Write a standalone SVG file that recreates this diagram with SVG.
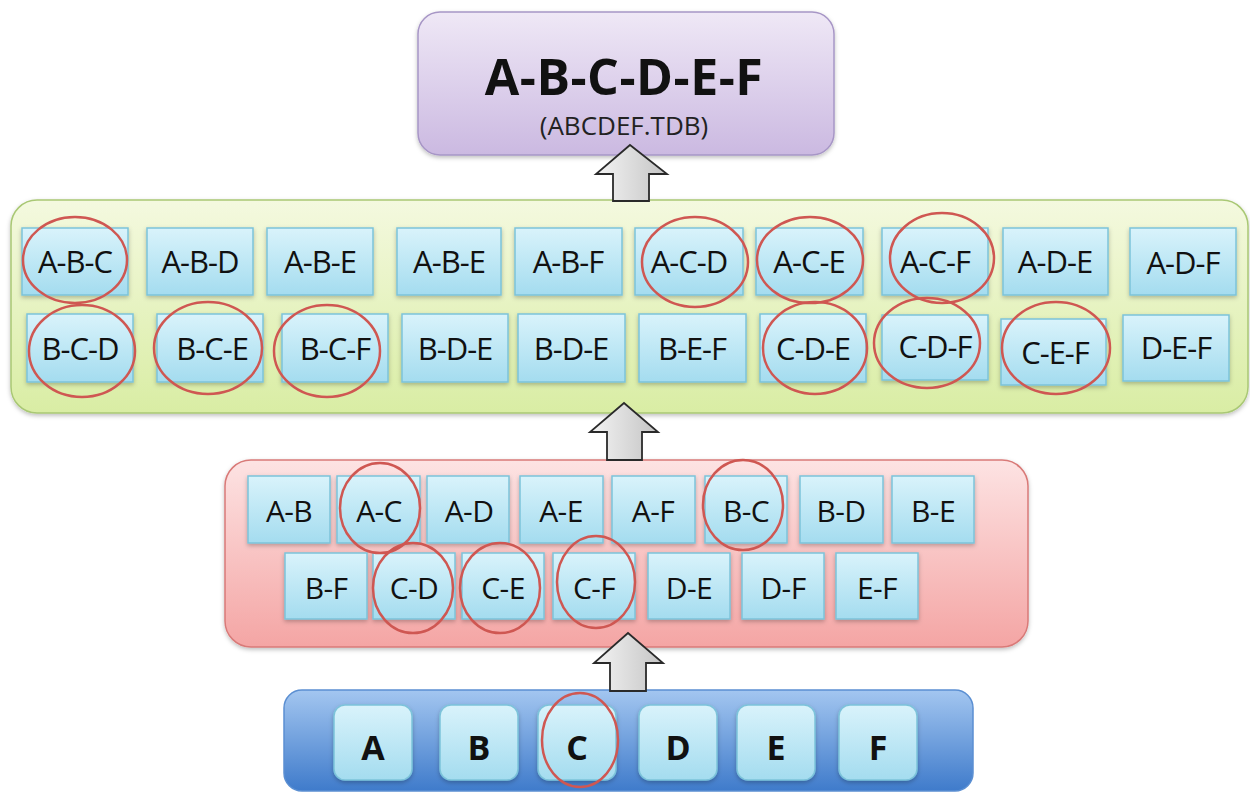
<svg xmlns="http://www.w3.org/2000/svg" width="1250" height="793" viewBox="0 0 1250 793">
<defs>
  <linearGradient id="gPurple" x1="0" y1="0" x2="0" y2="1"><stop offset="0" stop-color="#efe8f6"/><stop offset="1" stop-color="#cbb9e1"/></linearGradient>
  <linearGradient id="gGreen" x1="0" y1="0" x2="0" y2="1"><stop offset="0" stop-color="#f4f9df"/><stop offset="1" stop-color="#d9eda4"/></linearGradient>
  <linearGradient id="gRed" x1="0" y1="0" x2="0" y2="1"><stop offset="0" stop-color="#fde3e3"/><stop offset="1" stop-color="#f4a5a4"/></linearGradient>
  <linearGradient id="gBlue" x1="0" y1="0" x2="0" y2="1"><stop offset="0" stop-color="#a3c6f0"/><stop offset="1" stop-color="#3f7bcb"/></linearGradient>
  <linearGradient id="gCell" x1="0" y1="0" x2="0" y2="1"><stop offset="0" stop-color="#d9f3fb"/><stop offset="1" stop-color="#a4dcef"/></linearGradient>
  <linearGradient id="gArrow" x1="0" y1="0" x2="1" y2="0"><stop offset="0" stop-color="#f4f4f4"/><stop offset="1" stop-color="#c4c4c4"/></linearGradient>
  <filter id="sh" x="-10%" y="-10%" width="120%" height="130%"><feDropShadow dx="0" dy="2" stdDeviation="2" flood-color="#000" flood-opacity="0.25"/></filter>
</defs>
<style>
  .cell { fill: url(#gCell); stroke: #7cc3da; stroke-width: 1.5; filter: url(#sh); }
  .t3 { font-family: "Open Sans", "Noto Sans", sans-serif; font-size: 31px; letter-spacing: -1px; fill: #111; text-anchor: middle; }
  .t2 { font-family: "Open Sans", "Noto Sans", sans-serif; font-size: 30px; letter-spacing: -0.6px; fill: #111; text-anchor: middle; }
  .t1 { font-family: "Open Sans", "Noto Sans", sans-serif; font-size: 34px; font-weight: bold; fill: #111; text-anchor: middle; }
  .ring { fill: none; stroke: #cf5752; stroke-width: 2.5; }
  .arrow { fill: url(#gArrow); stroke: #2a2a2a; stroke-width: 1.8; stroke-linejoin: miter; }
</style>

<!-- Panels -->
<g id="top">
  <rect x="418" y="12" width="416" height="143" rx="22" fill="url(#gPurple)" stroke="#a796c6" stroke-width="1.5" filter="url(#sh)"/>
  <text x="624" y="95" font-family="Open Sans, Noto Sans, sans-serif" font-size="50" font-weight="bold" fill="#111" text-anchor="middle" letter-spacing="0.5">A-B-C-D-E-F</text>
  <text x="624" y="135" font-family="Open Sans, Noto Sans, sans-serif" font-size="26" fill="#222" text-anchor="middle">(ABCDEF.TDB)</text>
</g>

<g id="triples">
  <rect x="11" y="200" width="1237" height="213" rx="26" fill="url(#gGreen)" stroke="#a9c874" stroke-width="1.5" filter="url(#sh)"/>
  <g id="t-ABC"><rect class="cell" x="22" y="228" width="106" height="67"/><text class="t3" x="75" y="273">A-B-C</text></g>
  <g id="t-ABD"><rect class="cell" x="147" y="228" width="106" height="67"/><text class="t3" x="200" y="273">A-B-D</text></g>
  <g id="t-ABE1"><rect class="cell" x="267" y="228" width="106" height="67"/><text class="t3" x="320" y="273">A-B-E</text></g>
  <g id="t-ABE2"><rect class="cell" x="397" y="228" width="104" height="67"/><text class="t3" x="449" y="273">A-B-E</text></g>
  <g id="t-ABF"><rect class="cell" x="515" y="228" width="107" height="67"/><text class="t3" x="568" y="273">A-B-F</text></g>
  <g id="t-ACD"><rect class="cell" x="635" y="228" width="108" height="67"/><text class="t3" x="689" y="273">A-C-D</text></g>
  <g id="t-ACE"><rect class="cell" x="756" y="228" width="107" height="67"/><text class="t3" x="809" y="273">A-C-E</text></g>
  <g id="t-ACF"><rect class="cell" x="882" y="228" width="106" height="67"/><text class="t3" x="935" y="273">A-C-F</text></g>
  <g id="t-ADE"><rect class="cell" x="1003" y="228" width="105" height="67"/><text class="t3" x="1055" y="273">A-D-E</text></g>
  <g id="t-ADF"><rect class="cell" x="1130" y="228" width="106" height="67"/><text class="t3" x="1183" y="274">A-D-F</text></g>

  <g id="t-BCD"><rect class="cell" x="27" y="314" width="106" height="68"/><text class="t3" x="80" y="360">B-C-D</text></g>
  <g id="t-BCE"><rect class="cell" x="157" y="314" width="106" height="68"/><text class="t3" x="212" y="360">B-C-E</text></g>
  <g id="t-BCF"><rect class="cell" x="282" y="314" width="106" height="68"/><text class="t3" x="335" y="360">B-C-F</text></g>
  <g id="t-BDE1"><rect class="cell" x="402" y="314" width="106" height="68"/><text class="t3" x="455" y="360">B-D-E</text></g>
  <g id="t-BDE2"><rect class="cell" x="518" y="314" width="107" height="68"/><text class="t3" x="571" y="360">B-D-E</text></g>
  <g id="t-BEF"><rect class="cell" x="639" y="314" width="107" height="68"/><text class="t3" x="692" y="360">B-E-F</text></g>
  <g id="t-CDE"><rect class="cell" x="760" y="314" width="106" height="68"/><text class="t3" x="813" y="360">C-D-E</text></g>
  <g id="t-CDF"><rect class="cell" x="882" y="315" width="106" height="65"/><text class="t3" x="935" y="358">C-D-F</text></g>
  <g id="t-CEF"><rect class="cell" x="1001" y="319" width="105" height="66"/><text class="t3" x="1055" y="364">C-E-F</text></g>
  <g id="t-DEF"><rect class="cell" x="1123" y="315" width="106" height="66"/><text class="t3" x="1176" y="359">D-E-F</text></g>
</g>

<g id="pairs">
  <rect x="225" y="460" width="803" height="187" rx="26" fill="url(#gRed)" stroke="#d97a78" stroke-width="1.5" filter="url(#sh)"/>
  <g id="p-AB"><rect class="cell" x="248" y="476" width="82" height="67"/><text class="t2" x="289" y="522">A-B</text></g>
  <g id="p-AC"><rect class="cell" x="337" y="476" width="83" height="67"/><text class="t2" x="379" y="522">A-C</text></g>
  <g id="p-AD"><rect class="cell" x="427" y="476" width="82" height="67"/><text class="t2" x="469" y="522">A-D</text></g>
  <g id="p-AE"><rect class="cell" x="520" y="476" width="83" height="67"/><text class="t2" x="561" y="522">A-E</text></g>
  <g id="p-AF"><rect class="cell" x="612" y="476" width="83" height="67"/><text class="t2" x="653" y="522">A-F</text></g>
  <g id="p-BC"><rect class="cell" x="705" y="476" width="82" height="67"/><text class="t2" x="746" y="522">B-C</text></g>
  <g id="p-BD"><rect class="cell" x="800" y="476" width="83" height="67"/><text class="t2" x="841" y="522">B-D</text></g>
  <g id="p-BE"><rect class="cell" x="892" y="476" width="82" height="67"/><text class="t2" x="933" y="522">B-E</text></g>

  <g id="p-BF"><rect class="cell" x="285" y="553" width="82" height="66"/><text class="t2" x="326" y="599">B-F</text></g>
  <g id="p-CD"><rect class="cell" x="373" y="553" width="82" height="66"/><text class="t2" x="414" y="599">C-D</text></g>
  <g id="p-CE"><rect class="cell" x="462" y="553" width="82" height="66"/><text class="t2" x="503" y="599">C-E</text></g>
  <g id="p-CF"><rect class="cell" x="553" y="553" width="82" height="66"/><text class="t2" x="594" y="599">C-F</text></g>
  <g id="p-DE"><rect class="cell" x="648" y="553" width="82" height="66"/><text class="t2" x="689" y="599">D-E</text></g>
  <g id="p-DF"><rect class="cell" x="742" y="553" width="82" height="66"/><text class="t2" x="783" y="599">D-F</text></g>
  <g id="p-EF"><rect class="cell" x="836" y="553" width="82" height="66"/><text class="t2" x="877" y="599">E-F</text></g>
</g>

<g id="singles">
  <rect x="284" y="690" width="689" height="101" rx="18" fill="url(#gBlue)" stroke="#5b8fd2" stroke-width="1.5"/>
  <g id="s-A"><rect class="cell" x="334" y="705" width="78" height="75" rx="11"/><text class="t1" x="373" y="760">A</text></g>
  <g id="s-B"><rect class="cell" x="440" y="705" width="78" height="75" rx="11"/><text class="t1" x="479" y="760">B</text></g>
  <g id="s-C"><rect class="cell" x="538" y="705" width="78" height="75" rx="11"/><text class="t1" x="577" y="760">C</text></g>
  <g id="s-D"><rect class="cell" x="639" y="705" width="78" height="75" rx="11"/><text class="t1" x="678" y="760">D</text></g>
  <g id="s-E"><rect class="cell" x="737" y="705" width="78" height="75" rx="11"/><text class="t1" x="776" y="760">E</text></g>
  <g id="s-F"><rect class="cell" x="839" y="705" width="78" height="75" rx="11"/><text class="t1" x="878" y="760">F</text></g>
</g>

<!-- Highlight rings -->
<g id="rings">
  <ellipse class="ring" cx="75" cy="260" rx="52" ry="43"/>
  <ellipse class="ring" cx="695" cy="262" rx="53" ry="45"/>
  <ellipse class="ring" cx="810" cy="260" rx="53" ry="43"/>
  <ellipse class="ring" cx="942" cy="258" rx="52" ry="45"/>
  <ellipse class="ring" cx="82" cy="351" rx="53" ry="46"/>
  <ellipse class="ring" cx="208" cy="348" rx="54" ry="46"/>
  <ellipse class="ring" cx="327" cy="351" rx="53" ry="46"/>
  <ellipse class="ring" cx="815" cy="348" rx="52" ry="46"/>
  <ellipse class="ring" cx="927" cy="343" rx="53" ry="45"/>
  <ellipse class="ring" cx="1056" cy="348" rx="54" ry="46"/>
  <ellipse class="ring" cx="380" cy="508" rx="40" ry="45"/>
  <ellipse class="ring" cx="743" cy="505" rx="40" ry="45"/>
  <ellipse class="ring" cx="413" cy="588" rx="40" ry="45"/>
  <ellipse class="ring" cx="500" cy="588" rx="40" ry="45"/>
  <ellipse class="ring" cx="596" cy="582" rx="39" ry="46"/>
  <ellipse class="ring" cx="580" cy="740" rx="38" ry="47"/>
</g>

<!-- Connectors: block arrows -->
<g id="connectors">
  <path class="arrow" d="M630 145 L667 174 L649 174 L649 201 L613 201 L613 174 L596 174 Z"/>
  <path class="arrow" d="M624 403 L658 432 L642 432 L642 460 L607 460 L607 432 L590 432 Z"/>
  <path class="arrow" d="M628 633 L663 663 L646 663 L646 691 L610 691 L610 663 L594 663 Z"/>
</g>
</svg>
